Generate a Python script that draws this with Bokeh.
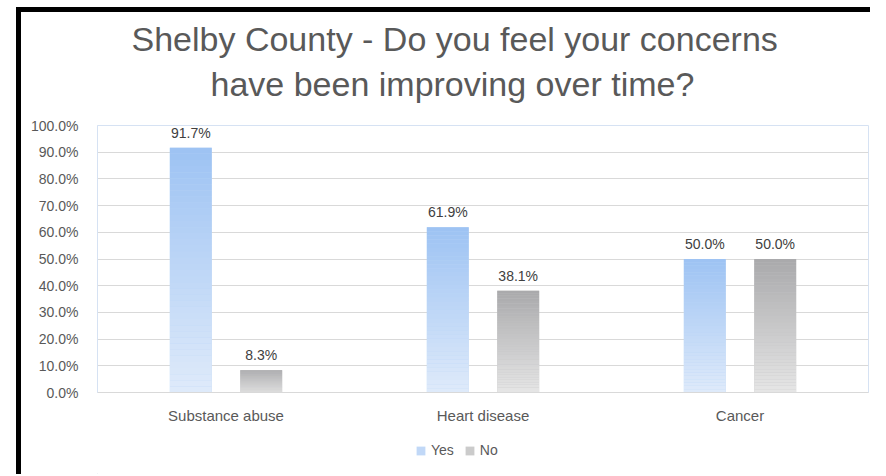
from bokeh.plotting import figure
from bokeh.layouts import column
from bokeh.models import (FactorRange, Range1d, NumeralTickFormatter, ColumnDataSource,
                          Legend, LegendItem, Title, FixedTicker)
from bokeh.transform import dodge
from bokeh.core.properties import value
from bokeh.embed import file_html
from bokeh.resources import INLINE

# ---- data ----
categories = ["Substance abuse", "Heart disease", "Cancer"]
yes_values = [0.917, 0.619, 0.500]
no_values = [0.083, 0.381, 0.500]
series_names = ["Yes", "No"]
y_tick_values = [0.0, 0.1, 0.2, 0.3, 0.4, 0.5, 0.6, 0.7, 0.8, 0.9, 1.0]
title_lines = ["Shelby County - Do you feel your concerns", "have been improving over time?"]

# ---- styling ----
yes_top, yes_bottom = (0x9D, 0xC3, 0xF3), (0xDF, 0xEA, 0xFA)
no_top, no_bottom = (0xA9, 0xA9, 0xAB), (0xE6, 0xE6, 0xE6)
offset = 0.137
bar_w = 0.163
N = 40
FONT = "Liberation Sans"
W = 870
H_MAIN, H_LEG = 430, 44

def lerp(c0, c1, t):
    return "#%02x%02x%02x" % tuple(int(round(a + (b - a) * t)) for a, b in zip(c0, c1))

# black screenshot frame (top and left bars) painted behind the transparent border area
main_css = {
    "background-color": "white",
    "background-image": "linear-gradient(black, black), linear-gradient(black, black)",
    "background-position": "16px 7px, 16px 7px",
    "background-size": "%dpx 5px, 5px %dpx" % (W - 16, H_MAIN),
    "background-repeat": "no-repeat, no-repeat",
}
leg_css = {
    "background-color": "white",
    "background-image": "linear-gradient(black, black)",
    "background-position": "16px 0px",
    "background-size": "5px %dpx" % H_LEG,
    "background-repeat": "no-repeat",
}

p = figure(x_range=FactorRange(*categories), y_range=Range1d(0, 1),
           width=W, height=H_MAIN, output_backend="svg", toolbar_location=None,
           min_border_left=97, min_border_right=W - 97 - 771, min_border_top=125,
           min_border_bottom=H_MAIN - 125 - 267)
p.background_fill_color = "white"
p.border_fill_alpha = 0
p.outline_line_color = "#D6E2F3"
p.styles = main_css

legend_colors = []
for name, vals, ctop, cbot, off in [("Yes", yes_values, yes_top, yes_bottom, -offset),
                                    ("No", no_values, no_top, no_bottom, offset)]:
    base = ColumnDataSource(dict(cat=categories, top=vals))
    p.vbar(x=dodge("cat", off, range=p.x_range), top="top", bottom=0, width=bar_w,
           source=base, fill_color=lerp(cbot, ctop, 0.55), line_color=None)
    legend_colors.append(lerp(cbot, ctop, 0.45))
    cats, bots, tops, cols = [], [], [], []
    for c, v in zip(categories, vals):
        for i in range(N):
            cats.append(c)
            bots.append(v * i / N)
            tops.append(v * (i + 1) / N)
            cols.append(lerp(cbot, ctop, (i + 0.5) / N))
    src = ColumnDataSource(dict(cat=cats, bottom=bots, top=tops, color=cols))
    p.vbar(x=dodge("cat", off, range=p.x_range), top="top", bottom="bottom", width=bar_w,
           source=src, fill_color="color", line_color=None)
    lab = ColumnDataSource(dict(cat=categories, y=vals, text=["%.1f%%" % (v * 100) for v in vals]))
    p.text(x=dodge("cat", off, range=p.x_range), y="y", text="text", source=lab,
           text_align="center", text_baseline="alphabetic", y_offset=-15,
           text_font=value(FONT), text_font_size="14px", text_color="#404040")

# axes
p.yaxis.ticker = FixedTicker(ticks=y_tick_values)
p.yaxis.formatter = NumeralTickFormatter(format="0.0%")
p.yaxis.major_tick_line_color = None
p.yaxis.minor_tick_line_color = None
p.yaxis.major_tick_out = 0
p.yaxis.axis_line_color = "#D6E2F3"
p.yaxis.major_label_text_font = FONT
p.yaxis.major_label_text_font_size = "14px"
p.yaxis.major_label_text_color = "#595959"
p.yaxis.major_label_standoff = 19

p.xaxis.major_tick_line_color = None
p.xaxis.minor_tick_line_color = None
p.xaxis.major_tick_out = 0
p.xaxis.axis_line_color = "#D9D9D9"
p.xaxis.major_label_text_font = FONT
p.xaxis.major_label_text_font_size = "15px"
p.xaxis.major_label_text_color = "#595959"
p.xaxis.major_label_standoff = 14

p.xgrid.grid_line_color = None
p.ygrid.grid_line_color = "#D9D9D9"
p.ygrid.grid_line_width = 1

# titles (first added is nearest the frame); offsets centre each line over the chart area
title_offsets = [34, 113]
title_standoffs = [-36, 46]
for line, off, so in reversed(list(zip(title_lines, title_offsets, title_standoffs))):
    p.add_layout(Title(text=line, align="left", offset=off, text_font=FONT,
                       text_font_size="34px", text_font_style="normal",
                       text_color="#595959", standoff=so), "above")

# legend strip below the chart
pl = figure(width=W, height=H_LEG, x_range=Range1d(0, W), y_range=Range1d(0, H_LEG),
            output_backend="svg", toolbar_location=None, min_border=0,
            x_axis_location=None, y_axis_location=None)
pl.grid.grid_line_color = None
pl.outline_line_color = None
pl.background_fill_alpha = 0
pl.border_fill_alpha = 0
pl.styles = leg_css
items = []
for name, col in zip(series_names, legend_colors):
    # legend proxy glyph kept outside the visible range
    r = pl.vbar(x=[-100], top=[1], width=1, fill_color=col, line_color=None)
    items.append(LegendItem(label=name, renderers=[r]))
legend = Legend(items=items, orientation="horizontal", location=(318, 16),
                glyph_width=11, glyph_height=11, label_height=11, label_standoff=5, spacing=10,
                padding=0, margin=0, border_line_color=None, background_fill_alpha=0,
                label_text_font=FONT, label_text_font_size="14px", label_text_color="#595959")
pl.add_layout(legend, "center")

layout = column(p, pl, spacing=0)
open("out.html", "w").write(file_html(layout, INLINE))
